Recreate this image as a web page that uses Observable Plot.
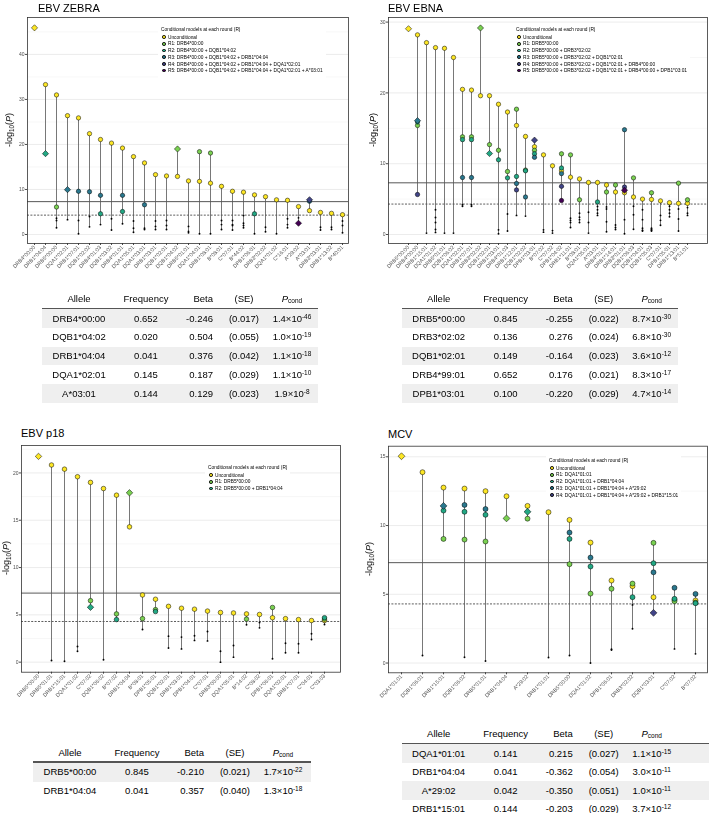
<!DOCTYPE html>
<html><head><meta charset="utf-8">
<script src="https://cdn.jsdelivr.net/npm/d3@7"></script>
<script src="https://cdn.jsdelivr.net/npm/@observablehq/plot@0.6"></script>
<style>
body{margin:0;background:#fff;font-family:"Liberation Sans",Arial,sans-serif;}
#root{position:relative;width:709px;height:813px;overflow:hidden;background:#fff;}
#root svg{will-change:transform;}
#root svg text{fill:#4d4d4d;}
.title{position:absolute;font-size:11px;color:#000;white-space:nowrap;line-height:1;}
.ylab{position:absolute;font-size:9px;white-space:nowrap;transform:translate(-50%,-50%) rotate(-90deg);line-height:1;}
.ylab sub{font-size:70%;vertical-align:-0.25em;}
.legend{position:absolute;background:#fff;padding:3px;font-size:4.8px;line-height:6.7px;color:#000;white-space:nowrap;will-change:transform;}
.legend .lt{margin-bottom:1px;}
.legend .sw{display:inline-block;width:3.6px;height:3.6px;border-radius:50%;box-sizing:border-box;border:0.6px solid #000;margin:0 2.2px 0 1.2px;vertical-align:middle;position:relative;top:-0.3px;}
.tbl{position:absolute;font-size:9.5px;color:#000;}
.tbl .cell{position:absolute;white-space:nowrap;line-height:1;}
.tbl sup{font-size:6.5px;vertical-align:0.45em;line-height:0;}
.tbl sub{font-size:6.5px;vertical-align:-0.15em;line-height:0;}
</style></head>
<body><div id="root"></div>
<script>
// ---------- shared ----------
const roundColors = ["#FDE725", "#7AD151", "#22A884", "#2A788E", "#414487", "#440154"];
const gwsThreshold = 7.3;        // -log10(5e-8)
const suggestiveThreshold = 4.3; // -log10(5e-5)
const legendTitle = "Conditional models at each round (R)";
const tableHeader = ["Allele", "Frequency", "Beta", "(SE)", "Pcond"];

// ---------- EBV ZEBRA ----------
const zebraAlleles = ["DRB4*00:00","DRB1*04:04","DRB5*00:00","DQA1*02:01","DRB1*07:01","DQB1*02:02","DRB4*01:03","DQB1*03:02","DRB4*01:01","DQA1*05:01","DQA1*03:01","DRB1*03:01","DQB1*02:01","DQB1*04:02","DRB5*01:01","DQA1*04:01","DRB1*08:01","B*08:01","C*07:01","B*44:02","DPB1*06:01","DRB3*02:02","DQA1*01:02","C*16:01","A*29:02","A*03:01","DRB3*03:01","DRB1*13:02","B*40:01"];
const zebraU = [45.9,33.3,31.0,26.4,25.9,22.4,21.1,20.3,19.2,17.3,15.9,13.3,13.0,12.9,11.9,11.8,11.4,10.7,9.6,9.4,8.8,8.4,7.7,7.6,6.2,5.3,4.9,4.7,4.4];
const zebraR1 = [["DRB5*00:00",6.1],["DQB1*04:02",19.0],["DQA1*04:01",18.4],["DRB1*08:01",18.1]];
const zebraR2 = [["DRB1*04:04",17.96],["DRB4*01:03",4.6],["DRB4*01:01",5.1],["DPB1*06:01",4.6]];
const zebraR3 = [["DQA1*02:01",9.96],["DRB1*07:01",9.6],["DQB1*02:02",9.5],["DRB4*01:03",8.7],["DRB4*01:01",8.7],["DQA1*03:01",6.6],["A*03:01",7.4]];
const zebraR4 = [["A*03:01",7.72]];
const zebraR5 = [["A*29:02",2.5]];
const zebraLow = [[],[],[3.6,3.1,1.5],[3.3],[3.1,0.15],[4.0,1.7],[2.2],[3.5,1.0],[2.4],[3.0,1.4,0.5],[1.4,1.1],[3.0,1.8,1.1],[3.1,2.0,1.1],[],[1.8,0.7,0.4],[0.15],[0.15],[3.1,2.2,1.1],[3.1,2.2,2.0,1.0],[4.2,2.5,2.0,1.5],[0.15],[1.6,0.6],[0.15],[3.5,2.2,1.5],[3.7],[],[1.6,1.0],[1.6,1.1],[3.0,2.0,0.4]];
const zebraLead = ["DRB4*00:00","DQB1*04:02","DRB1*04:04","DQA1*02:01","A*03:01","A*29:02"];
const zebraYTicks = [0,10,20,30,40];
const zebraLegend = ["Unconditional","R1: DRB4*00:00","R2: DRB4*00:00 + DQB1*04:02","R3: DRB4*00:00 + DQB1*04:02 + DRB1*04:04","R4: DRB4*00:00 + DQB1*04:02 + DRB1*04:04 + DQA1*02:01","R5: DRB4*00:00 + DQB1*04:02 + DRB1*04:04 + DQA1*02:01 + A*03:01"];
const zebraTable = [
  ["DRB4*00:00","0.652","-0.246","(0.017)","1.4","-46"],
  ["DQB1*04:02","0.020","0.504","(0.055)","1.0","-19"],
  ["DRB1*04:04","0.041","0.376","(0.042)","1.1","-18"],
  ["DQA1*02:01","0.145","0.187","(0.029)","1.1","-10"],
  ["A*03:01","0.144","0.129","(0.023)","1.9","-8"]];

// ---------- EBV EBNA ----------
const ebnaAlleles = ["DRB5*00:00","DRB4*00:00","DRB1*15:01","DQA1*01:02","DRB5*01:01","DQB1*06:02","DQA1*02:01","DRB1*07:01","DRB3*02:02","DQB1*02:01","DRB1*03:01","DRB4*01:03","DRB1*12:01","DQB1*02:02","DPB1*03:01","B*07:02","C*07:02","DPB1*04:02","DRB1*11:01","B*08:01","DQA1*05:01","A*03:01","DRB4*01:01","DRB1*14:01","DRB3*01:01","DQB1*06:03","DQB1*04:01","DQB1*05:03","C*07:01","DPB1*05:01","DRB1*13:01","B*51:01"];
const ebnaU = [29.06,28.2,27.1,26.4,26.3,25.0,20.5,20.4,19.6,19.6,18.4,17.3,15.4,13.85,12.4,11.25,9.7,9.0,8.1,7.85,7.35,7.35,7.0,6.0,5.9,5.3,5.0,4.95,4.75,4.5,4.4,4.4];
const ebnaR1 = [["DRB4*00:00",15.4],["DQA1*02:01",13.8],["DRB1*07:01",13.8],["DRB3*02:02",29.17],["DQB1*02:01",12.7],["DRB1*03:01",11.9],["DRB4*01:03",8.9],["DRB1*12:01",17.7],["DQB1*02:02",9.1],["DPB1*03:01",11.9],["DPB1*04:02",11.4],["DRB1*11:01",11.25],["B*08:01",4.9],["DRB4*01:01",6.0],["DRB1*14:01",7.0],["DQB1*06:03",8.0],["DQB1*05:03",5.9],["DRB1*13:01",7.25],["B*51:01",4.9]];
const ebnaR2 = [["DRB4*00:00",15.9],["DQA1*02:01",13.4],["DRB1*07:01",13.4],["DQB1*02:01",11.44],["DRB1*03:01",10.55],["DRB4*01:03",8.0],["DRB1*12:01",8.2],["DQB1*02:02",9.0],["DPB1*03:01",11.4],["DPB1*04:02",9.4],["A*03:01",4.6]];
const ebnaR3 = [["DRB4*00:00",16.08],["DQA1*02:01",8.05],["DRB1*07:01",8.05],["DRB1*12:01",7.2],["DQB1*02:02",5.3],["DPB1*03:01",10.9],["DPB1*04:02",8.6],["DRB3*01:01",14.8]];
const ebnaR4 = [["DRB4*00:00",5.65],["DRB1*12:01",6.3],["DPB1*03:01",13.33],["DPB1*04:02",6.8],["DRB3*01:01",6.7]];
const ebnaR5 = [["DPB1*04:02",4.8],["DRB3*01:01",6.25]];
const ebnaLow = [[],[],[0.2],[3.5,2.4,1.7,0.7,0.3],[0.2],[0.2],[4.2,4.0],[4.2,4.0],[],[],[0.66,0.1],[2.9,0.5],[2.7],[2.6],[],[0.66,0.33],[0.55,0.2],[],[2.3,2.0,1.7,1.0],[3.0,2.45,2.1,1.7],[3.15,1.7,0.2],[3.95,3.5,3.0,2.7],[3.9,3.6,1.8,0.4],[1.35,1.0,0.7],[2.1,0.1],[4.0,2.8,0.75],[3.5,2.1,0.9,0.6,0.5],[0.9,0.75,0.6,0.5],[2.7,2.0,1.3],[4.0,3.5,3.0,2.5],[3.6,2.2,0.5],[3.8,3.0,2.7]];
const ebnaLead = ["DRB5*00:00","DRB3*02:02","DQB1*02:01","DRB4*00:00","DPB1*03:01","DRB3*01:01"];
const ebnaYTicks = [0,10,20,30];
const ebnaLegend = ["Unconditional","R1: DRB5*00:00","R2: DRB5*00:00 + DRB3*02:02","R3: DRB5*00:00 + DRB3*02:02 + DQB1*02:01","R4: DRB5*00:00 + DRB3*02:02 + DQB1*02:01 + DRB4*00:00","R5: DRB5*00:00 + DRB3*02:02 + DQB1*02:01 + DRB4*00:00 + DPB1*03:01"];
const ebnaTable = [
  ["DRB5*00:00","0.845","-0.255","(0.022)","8.7","-30"],
  ["DRB3*02:02","0.136","0.276","(0.024)","6.8","-30"],
  ["DQB1*02:01","0.149","-0.164","(0.023)","3.6","-12"],
  ["DRB4*99:01","0.652","0.176","(0.021)","8.3","-17"],
  ["DPB1*03:01","0.100","-0.220","(0.029)","4.7","-14"]];

// ---------- EBV p18 ----------
const p18Alleles = ["DRB5*00:00","DRB5*01:01","DRB1*15:01","DQA1*01:02","C*07:02","DQB1*06:02","B*07:02","DRB1*04:04","B*08:01","DPB1*05:01","DQB1*02:01","DRB1*03:01","DPB1*04:01","C*07:01","DRB3*00:00","DQA1*05:01","B*14:02","C*08:02","DPB1*06:01","DQA1*02:01","DRB1*07:01","C*04:01","C*03:03"];
const p18U = [21.75,20.84,20.4,19.6,19.0,18.35,17.65,14.3,7.1,6.65,5.9,5.7,5.6,5.4,5.25,5.2,5.1,5.04,4.7,4.6,4.5,4.4,4.4];
const p18R1 = [["C*07:02",6.5],["B*07:02",5.1],["DRB1*04:04",17.9],["B*08:01",4.6],["DPB1*05:01",5.55],["B*14:02",4.55],["DPB1*06:01",5.78],["C*03:03",4.55]];
const p18R2 = [["C*07:02",5.8],["B*07:02",4.5],["DPB1*05:01",5.35],["C*03:03",4.7]];
const p18Low = [[],[0.18],[0.1],[1.66,1.16],[],[0.25],[],[],[3.45],[],[2.75,1.5],[2.65,1.4],[2.8,2.3],[3.24,2.25],[1.16,0.0],[1.76,0.53],[3.95],[4.2,3.63],[0.36],[2.0,1.0],[1.95,1.0],[3.0,2.4],[3.98]];
const p18Lead = ["DRB5*00:00","DRB1*04:04","C*07:02"];
const p18YTicks = [0,5,10,15,20];
const p18Legend = ["Unconditional","R1: DRB5*00:00","R2: DRB5*00:00 + DRB1*04:04"];
const p18Table = [
  ["DRB5*00:00","0.845","-0.210","(0.021)","1.7","-22"],
  ["DRB1*04:04","0.041","0.357","(0.040)","1.3","-18"]];

// ---------- MCV ----------
const mcvAlleles = ["DQA1*01:01","DQB1*06:01","DRB1*15:01","DQB1*06:02","DRB5*01:01","DRB1*04:04","A*29:02","DRB1*01:01","DRB5*00:00","DQA1*01:02","DPB1*06:01","DRB3*02:02","DQB1*03:01","C*07:02","B*07:02"];
const mcvU = [15.04,13.88,12.76,12.69,12.5,12.13,11.43,10.97,10.41,8.76,6.0,5.59,4.79,4.6,4.55];
const mcvR1 = [["DRB1*15:01",9.03],["DQB1*06:02",8.98],["DRB5*01:01",8.84],["DRB1*04:04",10.52],["A*29:02",10.5],["DRB5*00:00",7.19],["DQA1*01:02",5.05],["DPB1*06:01",5.4],["DRB3*02:02",5.78],["DQB1*03:01",8.74],["C*07:02",4.5],["B*07:02",4.4]];
const mcvR2 = [["DRB1*15:01",11.09],["DQB1*06:02",11.0],["DRB5*01:01",10.78],["A*29:02",11.0],["DRB5*00:00",9.03],["DQA1*01:02",7.02],["DRB3*02:02",4.79],["DQB1*03:01",7.26],["C*07:02",4.67],["B*07:02",4.35]];
const mcvR3 = [["DRB1*15:01",11.43],["DQB1*06:02",11.5],["DRB5*01:01",11.2],["DRB5*00:00",9.49],["DQA1*01:02",7.67],["DQB1*03:01",6.6],["C*07:02",5.47],["B*07:02",5.03]];
const mcvR4 = [["DQB1*03:01",3.65]];
const mcvLow = [[],[0.55],[],[0.42],[0.15],[],[],[0.4],[0.55],[0.0],[1.0,0.95],[4.23,2.49],[],[1.03],[0.67]];
const mcvLead = ["DQA1*01:01","DRB1*04:04","A*29:02","DRB1*15:01","DQB1*03:01"];
const mcvYTicks = [0,5,10,15];
const mcvLegend = ["Unconditional","R1: DQA1*01:01","R2: DQA1*01:01 + DRB1*04:04","R3: DQA1*01:01 + DRB1*04:04 + A*29:02","R4: DQA1*01:01 + DRB1*04:04 + A*29:02 + DRB1*15:01"];
const mcvTable = [
  ["DQA1*01:01","0.141","0.215","(0.027)","1.1","-15"],
  ["DRB1*04:04","0.041","-0.362","(0.054)","3.0","-11"],
  ["A*29:02","0.042","-0.350","(0.051)","1.0","-11"],
  ["DRB1*15:01","0.144","-0.203","(0.029)","3.7","-12"]];

// ---------- drawing ----------
const root = document.getElementById("root");
function place(el, left, top) {
  el.style.position = "absolute"; el.style.left = left + "px"; el.style.top = top + "px";
  root.appendChild(el);
}

function panelPlot(cfg) {
  const rounds = [cfg.U.map((v, i) => [cfg.alleles[i], v]), ...cfg.cond];
  const pts = [];
  rounds.forEach((pairs, r) => pairs.forEach(([a, v]) => pts.push({allele: a, round: r, value: v})));
  const leadPts = cfg.lead.map((a, r) => pts.find(p => p.allele === a && p.round === r)).filter(Boolean);
  const normal = pts.filter(p => !leadPts.includes(p));
  const small = [];
  cfg.alleles.forEach((a, i) => (cfg.low[i] || []).forEach(v => small.push({allele: a, value: v})));
  const all = pts.concat(small);
  const stems = d3.groups(all, d => d.allele).map(([a, arr]) => ({allele: a, lo: d3.min(arr, d => d.value), hi: d3.max(arr, d => d.value)}));
  const t = cfg.yTicks, step = t[1] - t[0];
  const minor = t.map(v => v + step / 2).filter(v => v < cfg.yDomain[1]);
  return Plot.plot({
    width: cfg.width, height: cfg.height,
    marginLeft: cfg.ml, marginRight: cfg.mr, marginTop: cfg.mt, marginBottom: cfg.mb,
    style: {fontFamily: "'Liberation Sans', Arial, sans-serif", background: "transparent", overflow: "visible", color: "#4d4d4d"},
    x: {type: "point", domain: cfg.alleles, padding: cfg.padding, label: null},
    y: {domain: cfg.yDomain, label: null},
    color: {type: "identity"},
    marks: [
      Plot.ruleY(minor, {stroke: "#f2f2f2", strokeWidth: 0.6}),
      Plot.ruleY(t, {stroke: "#e4e4e4", strokeWidth: 0.7}),
      Plot.ruleY([suggestiveThreshold], {stroke: "#333", strokeWidth: 0.8, strokeDasharray: "2,1.4"}),
      Plot.ruleY([gwsThreshold], {stroke: "#444", strokeWidth: 0.9}),
      Plot.ruleX(stems, {x: "allele", y1: "lo", y2: "hi", stroke: "#555", strokeWidth: 0.8}),
      Plot.dot(small, {x: "allele", y: "value", r: 0.95, fill: "#000", stroke: "none"}),
      Plot.dot(normal, {x: "allele", y: "value", r: cfg.r, fill: d => roundColors[d.round], stroke: "#000", strokeWidth: 0.5}),
      Plot.dot(leadPts, {x: "allele", y: "value", r: cfg.r + 0.6, symbol: "diamond2", fill: d => roundColors[d.round], stroke: "#000", strokeWidth: 0.5}),
      Plot.axisY(t, {tickSize: 2, tickPadding: 1, fontSize: 5, stroke: "#4d4d4d", fill: "#4d4d4d", label: null}),
      Plot.axisX({tickRotate: -45, tickSize: 2, tickPadding: 1, fontSize: 5.3, stroke: "#4d4d4d", fill: "#4d4d4d", label: null}),
      Plot.frame({stroke: "#333", strokeWidth: 0.8})
    ]
  });
}

function addTitle(text, left, top) {
  const d = document.createElement("div"); d.className = "title"; d.textContent = text; place(d, left, top);
}
function addYLabel(cx, cy) {
  const d = document.createElement("div"); d.className = "ylab";
  d.innerHTML = "-log<sub>10</sub>(<i>P</i>)"; place(d, cx, cy);
}
function addLegend(entries, left, top) {
  const d = document.createElement("div"); d.className = "legend";
  let html = `<div class="lt">${legendTitle}</div>`;
  entries.forEach((e, i) => { html += `<div><span class="sw" style="background:${roundColors[i]}"></span>${e}</div>`; });
  d.innerHTML = html; place(d, left, top);
}
function addTable(rows, left, top, width, rowH) {
  const d = document.createElement("div"); d.className = "tbl";
  d.style.width = width + "px";
  const headH = 17.2;
  d.style.height = (headH + rowH * rows.length + 2) + "px";
  const cols = [{x: 37, a: "c"}, {x: 104, a: "c"}, {x: 171, a: "r"}, {x: 202, a: "c"}, {x: 250, a: "c"}];
  let html = "";
  rows.forEach((row, i) => {
    if (i % 2 === 0) html += `<div style="position:absolute;left:0;width:${width}px;top:${headH + 1.5 + i * rowH}px;height:${rowH}px;background:#efefef"></div>`;
  });
  html += `<div style="position:absolute;left:0;width:${width}px;top:${headH}px;height:1.6px;background:#555"></div>`;
  const cell = (content, c, cy) => {
    const st = c.a === "c" ? `left:${c.x - 50}px;width:100px;text-align:center;` : `left:${c.x - 60}px;width:60px;text-align:right;`;
    return `<div class="cell" style="${st}top:${cy - 4.8}px">${content}</div>`;
  };
  const hdr = [tableHeader[0], tableHeader[1], tableHeader[2], tableHeader[3], "<i>P</i><sub>cond</sub>"];
  hdr.forEach((h, j) => html += cell(h, cols[j], headH / 2));
  rows.forEach((row, i) => {
    const cy = headH + 1.5 + i * rowH + rowH / 2;
    const vals = [row[0], row[1], row[2], row[3], `${row[4]}×10<sup>${row[5]}</sup>`];
    vals.forEach((v, j) => html += cell(v, cols[j], cy));
  });
  d.innerHTML = html; place(d, left, top);
}

// ZEBRA
place(panelPlot({alleles: zebraAlleles, U: zebraU, cond: [zebraR1, zebraR2, zebraR3, zebraR4, zebraR5], low: zebraLow, lead: zebraLead,
  yDomain: [-2.0, 48.2], yTicks: zebraYTicks, padding: 0.55, r: 2.2,
  width: 354, height: 283, ml: 27, mr: 6, mt: 5, mb: 52}), 0, 12);
addTitle("EBV ZEBRA", 38, 3);
addYLabel(10, 130);
addLegend(zebraLegend, 158, 23.6);
addTable(zebraTable, 42, 290.5, 276, 18.7);

// EBNA
place(panelPlot({alleles: ebnaAlleles, U: ebnaU, cond: [ebnaR1, ebnaR2, ebnaR3, ebnaR4, ebnaR5], low: ebnaLow, lead: ebnaLead,
  yDomain: [-1.27, 30.65], yTicks: ebnaYTicks, padding: 0.63, r: 2.2,
  width: 354, height: 283, ml: 33, mr: 2, mt: 5, mb: 52}), 355, 12);
addTitle("EBV EBNA", 388, 3);
addYLabel(374, 130);
addLegend(ebnaLegend, 513, 23.6);
addTable(ebnaTable, 401.7, 290.5, 276.3, 18.7);

// p18
place(panelPlot({alleles: p18Alleles, U: p18U, cond: [p18R1, p18R2], low: p18Low, lead: p18Lead,
  yDomain: [-1.06, 22.9], yTicks: p18YTicks, padding: 0.41, r: 2.3,
  width: 354, height: 267, ml: 21, mr: 14, mt: 5, mb: 35.3}), 0, 440);
addTitle("EBV p18", 21, 428);
addYLabel(6.5, 558);
addLegend(p18Legend, 205, 462);
addTable(p18Table, 33, 744.2, 277.7, 18.7);

// MCV
place(panelPlot({alleles: mcvAlleles, U: mcvU, cond: [mcvR1, mcvR2, mcvR3, mcvR4], low: mcvLow, lead: mcvLead,
  yDomain: [-0.71, 15.77], yTicks: mcvYTicks, padding: 0.32, r: 2.5,
  width: 354, height: 267, ml: 33, mr: 2, mt: 5.7, mb: 34.7}), 355, 440);
addTitle("MCV", 388, 429);
addYLabel(370, 559);
addLegend(mcvLegend, 546, 455.3);
addTable(mcvTable, 401.7, 725.5, 307.3, 18.5);
</script></body></html>
